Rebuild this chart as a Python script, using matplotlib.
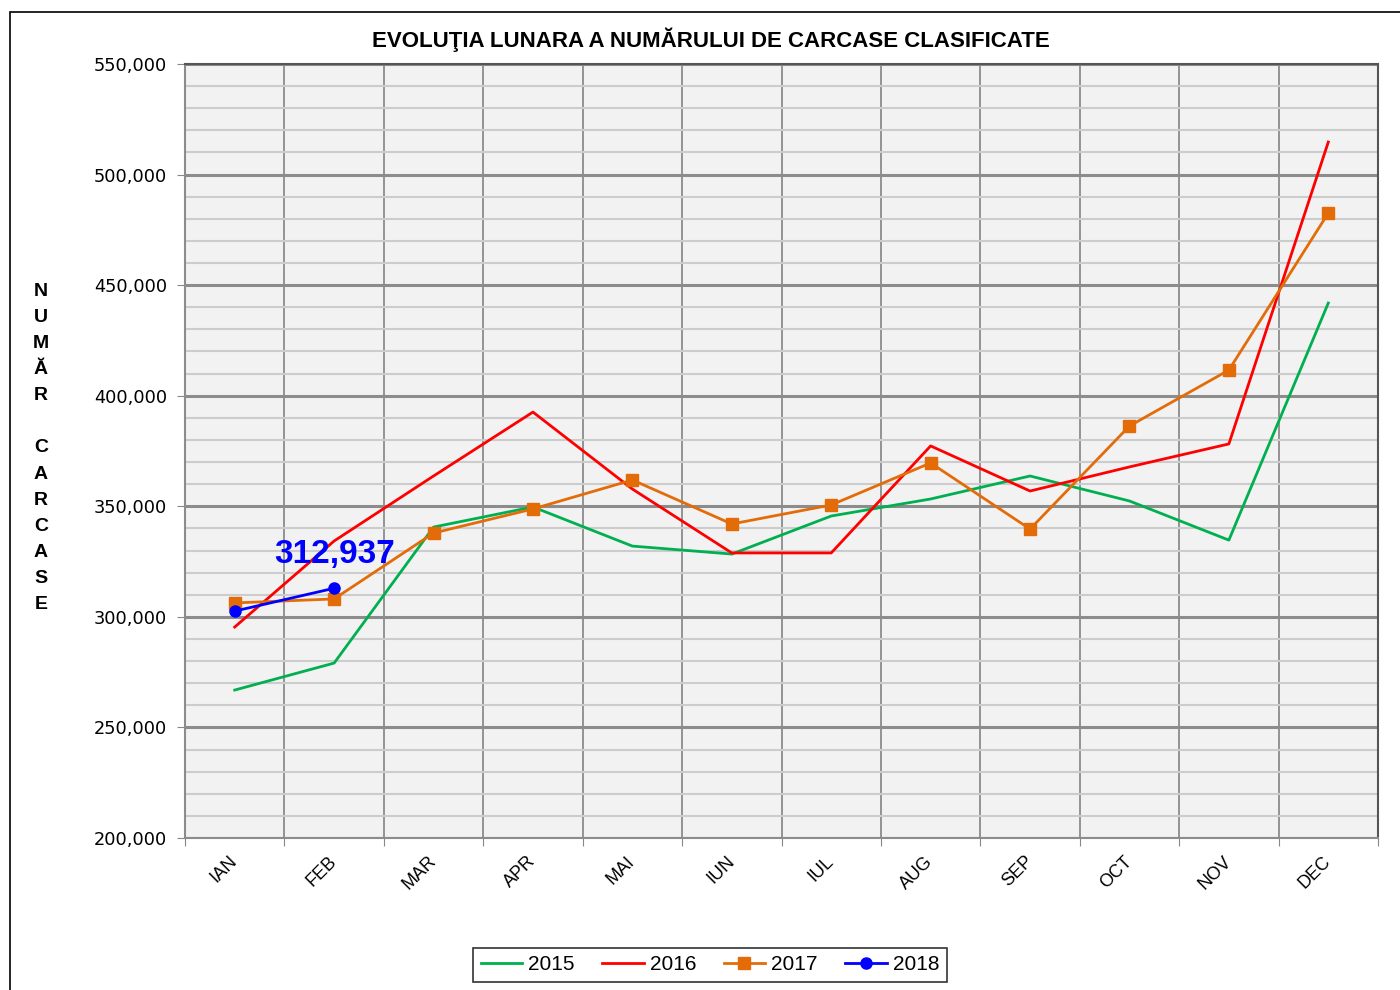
import numpy as np
import matplotlib.pyplot as plt
from matplotlib.patches import Rectangle
from matplotlib.ticker import MultipleLocator, FuncFormatter

luni = ["IAN", "FEB", "MAR", "APR", "MAI", "IUN", "IUL", "AUG", "SEP", "OCT", "NOV", "DEC"]
v2015 = [266900, 279100, 340600, 349700, 332000, 328400, 345600, 353300, 363700, 352400, 334700, 441900]
v2016 = [295400, 334300, 363700, 392600, 357800, 328900, 328900, 377300, 356900, 367800, 378200, 514700]
v2017 = [306300, 308100, 337900, 348800, 361900, 342000, 350600, 369600, 339700, 386300, 411600, 482600]
v2018 = [302600, 312937]

fig = plt.figure(figsize=(14, 9.9), dpi=100)
fig.patches.append(Rectangle((10 / 1400, -0.1), 1.2, 1 - 12 / 990 + 0.1, transform=fig.transFigure,
                             fill=False, edgecolor="black", linewidth=1.2))

ax = fig.add_axes([185 / 1400, 1 - 838 / 990, (1378 - 185) / 1400, (838 - 64) / 990])
ax.set_facecolor("#f2f2f2")

x = np.arange(len(luni))
ax.plot(x, v2015, color="#00b050", lw=2, label="2015")
ax.plot(x, v2016, color="#ff0000", lw=2, label="2016")
ax.plot(x, v2017, color="#e36c09", lw=2, marker="s", ms=8, label="2017")
ax.plot(x[:len(v2018)], v2018, color="#0000ff", lw=2, marker="o", ms=8, label="2018")

ax.annotate(f"{v2018[-1]:,}", (x[1], v2018[-1]), xytext=(0, 24), textcoords="offset points",
            ha="center", va="center", color="#0000ff", fontsize=24, fontweight="bold",
            family="Liberation Sans")

ax.set_xlim(-0.5, 11.5)
ax.set_ylim(200000, 550000)
ax.yaxis.set_major_locator(MultipleLocator(50000))
ax.yaxis.set_minor_locator(MultipleLocator(10000))
ax.yaxis.set_major_formatter(FuncFormatter(lambda v, p: f"{int(v):,}"))
ax.set_xticks(np.arange(-0.5, 12, 1), minor=False)
ax.set_xticklabels([])
ax.set_xticks(x, minor=True)
ax.set_xticklabels(luni, minor=True, rotation=45, ha="right", va="center",
                   rotation_mode="anchor", fontsize=13, family="Liberation Sans")
ax.tick_params(axis="x", which="minor", length=0, pad=15)
ax.tick_params(axis="x", which="major", length=6, color="#888888")
ax.tick_params(axis="y", which="major", length=6, color="#888888", labelsize=12.8, pad=7)
ax.tick_params(axis="y", which="minor", length=0)

ax.grid(axis="y", which="minor", color="#cccccc", lw=1.5)
ax.grid(axis="y", which="major", color="#8c8c8c", lw=2.2)
ax.grid(axis="x", which="major", color="#8c8c8c", lw=1.3)
ax.set_axisbelow(True)
for s in ["top", "right"]:
    ax.spines[s].set_color("#555555")
    ax.spines[s].set_linewidth(1.5)
for s in ["left", "bottom"]:
    ax.spines[s].set_color("#8c8c8c")
    ax.spines[s].set_linewidth(1.5)

fig.text(711 / 1400, 1 - 40 / 990, "EVOLUŢIA LUNARA A NUMĂRULUI DE CARCASE CLASIFICATE",
         ha="center", va="center", fontsize=16, fontweight="bold", family="Liberation Sans")
fig.text(41 / 1400, 1 - 448 / 990, "\n".join("NUMĂR CARCASE"), ha="center", va="center",
         fontsize=14, fontweight="bold", family="Liberation Sans", linespacing=1.7)

leg = fig.legend(loc="center", bbox_to_anchor=(710 / 1400, 1 - 965 / 990), ncol=4,
                 prop={"family": "Liberation Sans", "size": 15}, frameon=True, fancybox=False,
                 handlelength=2.0, columnspacing=1.3, handletextpad=0.3, borderpad=0.35)
leg.get_frame().set_edgecolor("black")
leg.get_frame().set_linewidth(1.2)

fig.savefig("out.png", dpi=100)
